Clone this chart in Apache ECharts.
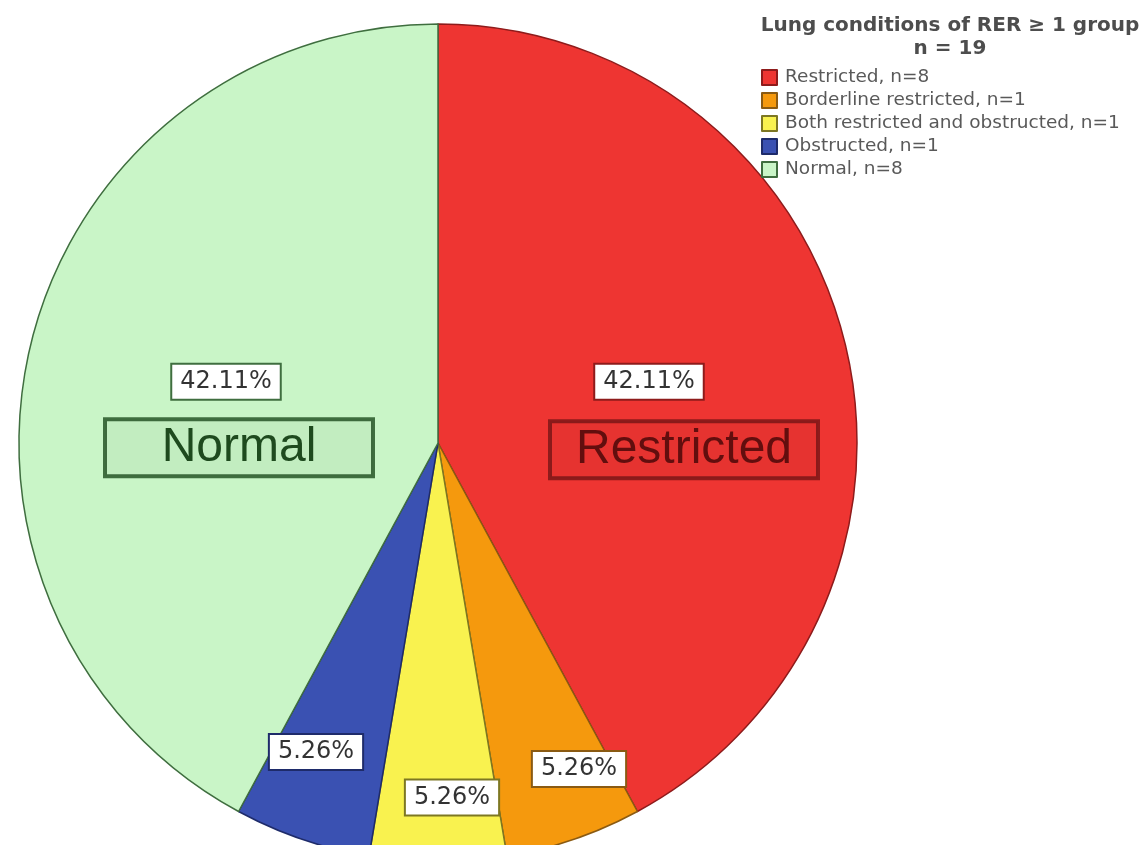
<!DOCTYPE html>
<html>
<head>
<meta charset="utf-8">
<title>Lung conditions of RER ≥ 1 group</title>
<script src="https://cdn.jsdelivr.net/npm/echarts@6/dist/echarts.min.js"></script>
<style>
  html, body { margin: 0; padding: 0; background: #ffffff; }
  #chart { width: 1144px; height: 845px; }
</style>
</head>
<body>
<div id="chart"></div>
<script>
// Lung condition groups, clockwise from 12 o'clock
const categories = ['Restricted', 'Borderline restricted', 'Both restricted and obstructed', 'Obstructed', 'Normal'];
const counts = [8, 1, 1, 1, 8];
// Short names written inside the two large slices
const sliceNames = ['Restricted', '', '', '', 'Normal'];
const totalN = 19;

// Fill, edge and dark text colours for each group
const fillColors = ['#ee3532', '#f5990d', '#f9f24f', '#3a51b2', '#c9f5c7'];
const edgeColors = ['#8e1b1b', '#8a5a12', '#7d7722', '#1e2b6a', '#3f6e3f'];
const textColors = ['#620e0e', '#5c3a05', '#4a4510', '#10183f', '#1e4a1e'];

// Nudges for the percentage boxes (small slices sit near the rim)
const pctOffsets = [[5, -9], [72, 125], [14, 142], [-53, 108], [-6, -9]];
// Nudges for the name boxes in the large slices
const nameOffsets = [[40, 59], [0, 0], [0, 0], [0, 0], [7, 57]];

const chart = echarts.init(document.getElementById('chart'), null, { renderer: 'canvas' });

const pieCenter = [438, 443];
const pieRadius = 419;

const sliceData = categories.map((name, i) => ({
  name: name,
  value: counts[i],
  itemStyle: { color: fillColors[i], borderColor: edgeColors[i], borderWidth: 1.5 },
  label: {
    offset: pctOffsets[i],
    borderColor: edgeColors[i]
  }
}));

const nameData = categories.map((name, i) => ({
  name: name,
  value: counts[i],
  label: sliceNames[i] ? {
    show: true,
    formatter: sliceNames[i],
    offset: nameOffsets[i],
    color: textColors[i],
    borderColor: edgeColors[i]
  } : { show: false }
}));

chart.setOption({
  animation: false,
  backgroundColor: '#ffffff',
  title: {
    text: 'Lung conditions of RER ≥ 1 group\nn = ' + totalN,
    left: 945,
    top: 9,
    textAlign: 'center',
    textStyle: {
      fontFamily: 'DejaVu Sans',
      fontSize: 20,
      fontWeight: 'bold',
      color: '#4d4d4d',
      lineHeight: 23,
      align: 'center'
    }
  },
  legend: {
    orient: 'vertical',
    left: 756,
    top: 63,
    itemWidth: 15,
    itemHeight: 15,
    itemGap: 4,
    icon: 'rect',
    data: categories,
    formatter: function (name) {
      const i = categories.indexOf(name);
      return name + ', n=' + counts[i];
    },
    textStyle: {
      fontFamily: 'DejaVu Sans',
      fontSize: 18.5,
      lineHeight: 15,
      color: '#595959',
      padding: [0, 0, 0, 3]
    }
  },
  series: [
    {
      type: 'pie',
      name: 'slices',
      center: pieCenter,
      radius: [0, pieRadius],
      startAngle: 90,
      clockwise: true,
      avoidLabelOverlap: false,
      percentPrecision: 2,
      label: {
        show: true,
        position: 'inside',
        formatter: '{d}%',
        fontFamily: 'DejaVu Sans',
        fontSize: 24,
        color: '#333333',
        backgroundColor: '#ffffff',
        borderWidth: 2,
        padding: [6, 8, 4, 8]
      },
      labelLine: { show: false },
      emphasis: { disabled: true },
      data: sliceData
    },
    {
      type: 'pie',
      name: 'names',
      center: pieCenter,
      radius: [0, pieRadius],
      startAngle: 90,
      clockwise: true,
      silent: true,
      avoidLabelOverlap: false,
      itemStyle: { color: 'rgba(0,0,0,0)', borderWidth: 0 },
      label: {
        position: 'inside',
        fontFamily: 'Liberation Sans',
        fontSize: 48,
        width: 268,
        align: 'center',
        backgroundColor: 'rgba(0,0,0,0.03)',
        borderWidth: 2,
        padding: [5, 0, 4, 0]
      },
      labelLine: { show: false },
      emphasis: { disabled: true },
      tooltip: { show: false },
      data: nameData
    }
  ]
});
</script>
</body>
</html>
